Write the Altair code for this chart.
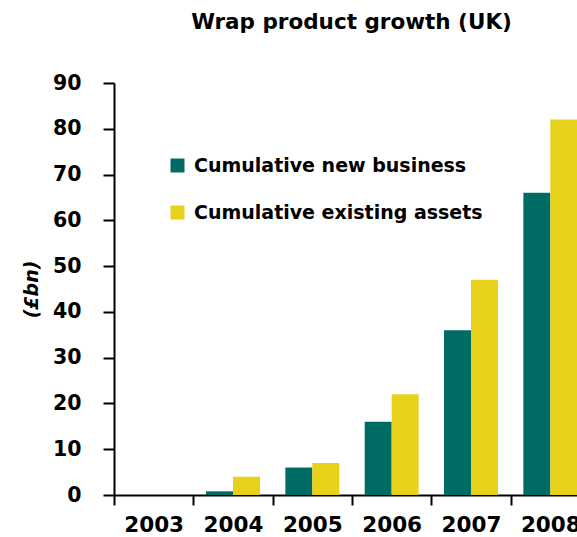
import altair as alt
import pandas as pd

years = ["2003", "2004", "2005", "2006", "2007", "2008"]
new_business = [0, 0.8, 6, 16, 36, 66]
existing_assets = [0, 4, 7, 22, 47, 82]
series = ["Cumulative new business", "Cumulative existing assets"]
colors = ["#006b64", "#e6d11b"]

rows = []
for i, yr in enumerate(years):
    rows.append({"year": yr, "series": series[0], "value": new_business[i]})
    rows.append({"year": yr, "series": series[1], "value": existing_assets[i]})
df = pd.DataFrame(rows)

FONT = "DejaVu Sans"

chart = alt.Chart(df).mark_bar().encode(
    x=alt.X("year:N", sort=years,
            scale=alt.Scale(range=[0, 476], paddingInner=0, paddingOuter=0),
            axis=alt.Axis(title=None, labelAngle=0, tickBand="extent",
                          labelFont=FONT, labelFontSize=21.5, labelFontWeight="bold",
                          labelColor="black", tickSize=10, labelPadding=9,
                          domainColor="black", domainWidth=2, tickColor="black",
                          tickWidth=2, grid=False, labelOverlap=False)),
    xOffset=alt.XOffset("series:N", sort=series,
                        scale=alt.Scale(paddingOuter=0.47, paddingInner=0)),
    y=alt.Y("value:Q", scale=alt.Scale(domain=[0, 90], nice=False),
            axis=alt.Axis(values=list(range(0, 100, 10)), title="(£bn)",
                          titleFont=FONT, titleFontSize=19, titleFontWeight="bold",
                          titleFontStyle="italic", titleColor="black",
                          titleX=-77, titleY=206, titleBaseline="alphabetic",
                          labelFont=FONT, labelFontSize=20.5, labelFontWeight="bold",
                          labelColor="black", tickSize=11, labelPadding=22,
                          domainColor="black", domainWidth=2, tickColor="black",
                          tickWidth=2, grid=False)),
    color=alt.Color("series:N", sort=series,
                    scale=alt.Scale(domain=series, range=colors),
                    legend=alt.Legend(title=None, orient="none", legendX=54, legendY=73,
                                      symbolType="square", symbolSize=196,
                                      symbolStrokeWidth=0, symbolOpacity=1,
                                      labelFont=FONT, labelFontSize=19,
                                      labelFontWeight="bold", labelColor="black",
                                      labelOffset=7, rowPadding=27, padding=0,
                                      labelLimit=400)),
).properties(
    width=463, height=412,
    autosize=alt.AutoSizeParams(type="none"),
    padding={"left": 114, "top": 83, "right": 0, "bottom": 42},
    title=alt.TitleParams("Wrap product growth (UK)", font=FONT, fontSize=21.5,
                          fontWeight="bold", color="black", anchor="middle",
                          dx=6, offset=40),
).configure_view(stroke=None)

chart.save("out.html", embed_options={"renderer": "svg", "actions": False})
